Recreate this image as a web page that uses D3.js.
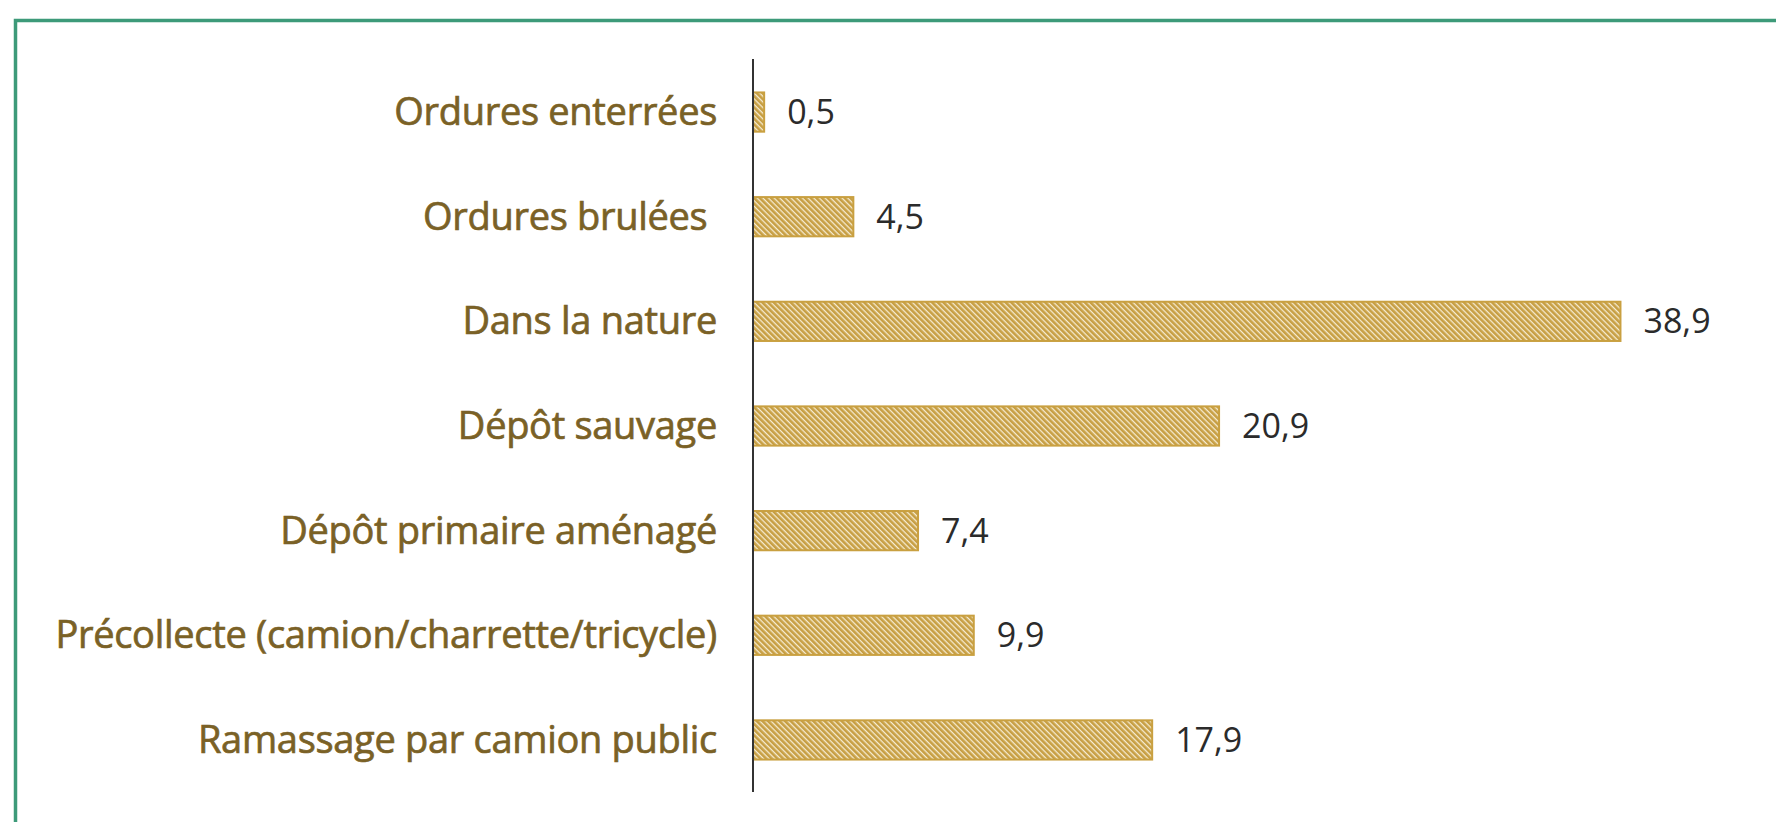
<!DOCTYPE html>
<html>
<head>
<meta charset="utf-8">
<script src="https://cdn.jsdelivr.net/npm/d3@7"></script>
<style>
    html, body { margin: 0; padding: 0; background: #fff; overflow: hidden; }
    svg { display: block; }
</style>
</head>
<body>
<svg id="chart"></svg>
<script>
// data, top bar first
const categories = [
    "Ordures enterrées",
    "Ordures brulées ",
    "Dans la nature",
    "Dépôt sauvage",
    "Dépôt primaire aménagé",
    "Précollecte (camion/charrette/tricycle)",
    "Ramassage par camion public"
];
const values = [0.5, 4.5, 38.9, 20.9, 7.4, 9.9, 17.9];
const valueLabels = ["0,5", "4,5", "38,9", "20,9", "7,4", "9,9", "17,9"];

const width = 1776, height = 822;
const margin = { top: 60, right: 131, bottom: 30, left: 753 };

const svg = d3.select("#chart")
    .attr("width", width)
    .attr("height", height);

// green frame, cut off on right and bottom
svg.append("path")
    .attr("d", `M15.5,${height + 10}V20.5H${width + 10}`)
    .attr("fill", "none")
    .attr("stroke", "#3d9a79")
    .attr("stroke-width", 3.5);

// hatch pattern
const defs = svg.append("defs");
const pat = defs.append("pattern")
    .attr("id", "hatch")
    .attr("patternUnits", "userSpaceOnUse")
    .attr("width", 4)
    .attr("height", 4)
    .attr("patternTransform", "rotate(-45)");
pat.append("rect")
    .attr("width", 4).attr("height", 4)
    .attr("fill", "#f6ecd2");
pat.append("rect")
    .attr("width", 2.7).attr("height", 4)
    .attr("fill", "#c79f44");

const x = d3.scaleLinear()
    .domain([0, 40])
    .range([margin.left, margin.left + 892]);

const y = d3.scaleBand()
    .domain(categories)
    .range([60, 792])
    .paddingInner(0.625)
    .paddingOuter(0.31);

const g = svg.append("g");

g.selectAll("rect.bar")
    .data(values)
    .enter()
    .append("rect")
    .attr("class", "bar")
    .attr("x", x(0))
    .attr("y", (d, i) => y(categories[i]))
    .attr("width", d => x(d) - x(0))
    .attr("height", y.bandwidth())
    .attr("fill", "url(#hatch)")
    .attr("stroke", "#c9a040")
    .attr("stroke-width", 2);

// category labels (thin stroke gives a medium weight)
g.selectAll("text.cat")
    .data(categories)
    .enter()
    .append("text")
    .attr("class", "cat")
    .attr("x", x(0) - 36)
    .attr("y", d => y(d) + y.bandwidth() / 2)
    .attr("dy", "0.34em")
    .attr("text-anchor", "end")
    .attr("font-family", "'Open Sans', sans-serif")
    .attr("font-size", 38)
    .attr("letter-spacing", -0.3)
    .attr("fill", "#7a6126")
    .attr("stroke", "#7a6126")
    .attr("stroke-width", 0.7)
    .style("white-space", "pre")
    .text(d => d);

// value labels
g.selectAll("text.val")
    .data(values)
    .enter()
    .append("text")
    .attr("class", "val")
    .attr("x", d => x(d) + 23)
    .attr("y", (d, i) => y(categories[i]) + y.bandwidth() / 2)
    .attr("dy", "0.35em")
    .attr("font-family", "'Open Sans', sans-serif")
    .attr("font-size", 34)
    .attr("fill", "#2b2b2b")
    .text((d, i) => valueLabels[i]);

// vertical axis line
svg.append("line")
    .attr("x1", x(0)).attr("x2", x(0))
    .attr("y1", 59).attr("y2", 792)
    .attr("stroke", "#333")
    .attr("stroke-width", 2);
</script>
</body>
</html>
